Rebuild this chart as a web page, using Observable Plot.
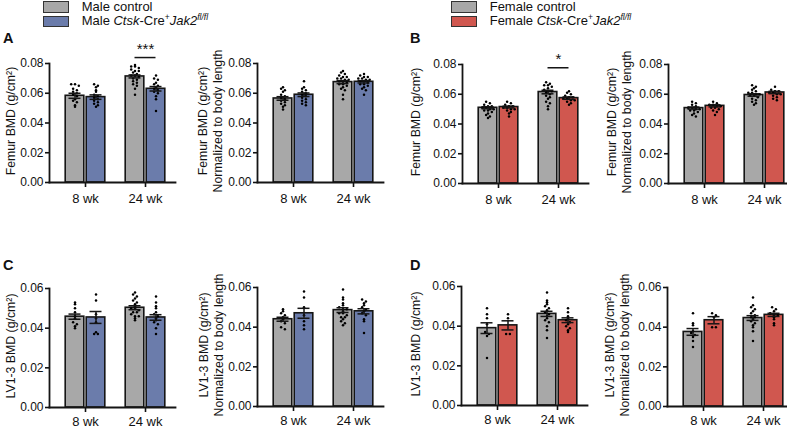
<!DOCTYPE html>
<html><head><meta charset="utf-8">
<script src="https://cdn.jsdelivr.net/npm/d3@7"></script>
<script src="https://cdn.jsdelivr.net/npm/@observablehq/plot@0.6"></script>
<style>
body{margin:0;background:#fff;}
#fig{position:relative;width:787px;height:428px;overflow:hidden;font-family:Arial,"Liberation Sans",Helvetica,sans-serif;color:#111;background:#fff;}
.sw{position:absolute;width:24px;height:9.5px;border:1px solid #333;}
.lt{position:absolute;font-size:13px;line-height:13px;white-space:nowrap;}
.lt sup{font-size:8.5px;line-height:0;vertical-align:5px;}
.letter{position:absolute;font-weight:bold;font-size:14.5px;line-height:14px;}
#fig svg{position:absolute;max-width:none;overflow:visible;background:transparent;}
</style></head>
<body><div id="fig"></div>
<script>
// ---------- data ----------
const weeks = ["8 wk", "24 wk"];
const groups = ["control", "Ctsk-Cre+Jak2fl/fl"];
const yTicksFemur = [0, 0.02, 0.04, 0.06, 0.08];
const yTicksLV = [0, 0.02, 0.04, 0.06];

// means / SEM: [group][week]
const aMean = [[0.0583, 0.0713], [0.0574, 0.0630]];
const aSem  = [[0.0017, 0.0010], [0.0015, 0.0015]];
const a2Mean = [[0.0565, 0.0675], [0.0590, 0.0677]];
const a2Sem  = [[0.0012, 0.0010], [0.0012, 0.0008]];
const bMean = [[0.0509, 0.0615], [0.0514, 0.0574]];
const bSem  = [[0.0007, 0.0012], [0.0006, 0.0008]];
const b2Mean = [[0.0507, 0.0595], [0.0522, 0.0612]];
const b2Sem  = [[0.0007, 0.0008], [0.0007, 0.0008]];
const cMean = [[0.0458, 0.0503], [0.0454, 0.0454]];
const cSem  = [[0.0013, 0.0010], [0.0030, 0.0014]];
const c2Mean = [[0.0440, 0.0486], [0.0470, 0.0480]];
const c2Sem  = [[0.0010, 0.0012], [0.0025, 0.0013]];
const dMean = [[0.0390, 0.0462], [0.0404, 0.0430]];
const dSem  = [[0.0027, 0.0013], [0.0023, 0.0012]];
const d2Mean = [[0.0376, 0.0446], [0.0435, 0.0462]];
const d2Sem  = [[0.0017, 0.0012], [0.0018, 0.0008]];

// individual animals: [group][week][...]
const aDots = [
  [[0.066,0.066,0.065,0.063,0.062,0.061,0.060,0.059,0.058,0.056,0.055,0.054,0.052,0.051],
   [0.079,0.078,0.078,0.077,0.076,0.075,0.075,0.074,0.073,0.072,0.072,0.071,0.070,0.069,0.068,0.067,0.066,0.065,0.063,0.059]],
  [[0.066,0.065,0.064,0.062,0.061,0.059,0.058,0.057,0.056,0.055,0.054,0.053,0.052,0.051],
   [0.072,0.070,0.069,0.067,0.066,0.065,0.064,0.063,0.062,0.061,0.060,0.058,0.056,0.048]]];
const a2Dots = [
  [[0.064,0.063,0.062,0.061,0.059,0.058,0.057,0.056,0.055,0.054,0.053,0.052,0.051,0.049],
   [0.075,0.074,0.073,0.072,0.071,0.071,0.070,0.070,0.069,0.069,0.068,0.068,0.067,0.066,0.066,0.065,0.064,0.063,0.062,0.059,0.056]],
  [[0.068,0.064,0.063,0.062,0.061,0.060,0.059,0.058,0.057,0.056,0.055,0.054,0.053,0.052],
   [0.073,0.072,0.071,0.071,0.070,0.070,0.069,0.069,0.068,0.068,0.067,0.066,0.066,0.065,0.064,0.063,0.062,0.059]]];
const bDots = [
  [[0.055,0.054,0.053,0.052,0.052,0.051,0.051,0.050,0.050,0.049,0.049,0.048,0.047,0.046,0.045,0.044],
   [0.068,0.067,0.066,0.066,0.065,0.064,0.063,0.062,0.062,0.061,0.060,0.059,0.058,0.057,0.055,0.054,0.052,0.050]],
  [[0.055,0.054,0.053,0.052,0.052,0.051,0.051,0.050,0.050,0.049,0.048,0.047,0.045],
   [0.062,0.061,0.060,0.059,0.058,0.058,0.057,0.057,0.056,0.056,0.055,0.054,0.053]]];
const b2Dots = [
  [[0.055,0.054,0.053,0.052,0.051,0.051,0.050,0.050,0.049,0.049,0.048,0.047,0.046,0.045],
   [0.066,0.065,0.064,0.063,0.062,0.061,0.061,0.060,0.060,0.059,0.059,0.058,0.057,0.056,0.055,0.054,0.053]],
  [[0.055,0.054,0.053,0.053,0.052,0.052,0.051,0.051,0.050,0.049,0.048,0.046],
   [0.065,0.063,0.062,0.062,0.061,0.061,0.060,0.060,0.059,0.058,0.057,0.056]]];
const cDots = [
  [[0.053,0.052,0.050,0.048,0.046,0.045,0.043,0.042,0.041,0.040],
   [0.058,0.057,0.056,0.055,0.054,0.053,0.052,0.051,0.050,0.050,0.049,0.048,0.048,0.047,0.046,0.046,0.045,0.044]],
  [[0.057,0.054,0.047,0.045,0.043,0.038,0.037,0.037],
   [0.056,0.053,0.051,0.050,0.048,0.047,0.046,0.045,0.044,0.043,0.042,0.040,0.037]]];
const c2Dots = [
  [[0.049,0.048,0.047,0.046,0.045,0.044,0.043,0.042,0.040,0.039],
   [0.059,0.055,0.054,0.052,0.051,0.050,0.049,0.049,0.048,0.047,0.047,0.046,0.045,0.045,0.044,0.043,0.042,0.041]],
  [[0.058,0.055,0.050,0.046,0.043,0.041,0.039],
   [0.054,0.053,0.052,0.051,0.050,0.049,0.048,0.047,0.046,0.044,0.043,0.037]]];
const dDots = [
  [[0.049,0.046,0.044,0.041,0.037,0.036,0.035,0.024],
   [0.057,0.053,0.052,0.051,0.050,0.049,0.048,0.047,0.046,0.045,0.044,0.043,0.042,0.040,0.038,0.034]],
  [[0.046,0.044,0.036,0.036],
   [0.049,0.047,0.045,0.044,0.043,0.042,0.041,0.040,0.039,0.038,0.037]]];
const d2Dots = [
  [[0.047,0.042,0.041,0.038,0.037,0.036,0.035,0.033,0.030],
   [0.055,0.051,0.050,0.049,0.048,0.047,0.046,0.045,0.045,0.044,0.043,0.042,0.041,0.040,0.038,0.033]],
  [[0.047,0.046,0.045,0.040,0.040],
   [0.050,0.049,0.048,0.047,0.046,0.046,0.045,0.044,0.042,0.041]]];

// significance brackets (week index, bracket level, label)
const aSig = [{week: 1, level: 0.084, label: "***"}];
const bSig = [{week: 1, level: 0.0778, label: "*"}];

const labelFemur = "Femur BMD (g/cm²)";
const labelFemurNorm = "Femur BMD (g/cm²)\nNormalized to body length";
const labelLV = "LV1-3 BMD (g/cm²)";
const labelLVNorm = "LV1-3 BMD (g/cm²)\nNormalized to body length";

// ---------- styles ----------
const ctrlColor = "#a8a8a8";
const maleColor = "#6b7cab";
const femaleColor = "#d0574f";
const ink = "#151515";
const FONT = 'Arial, "Liberation Sans", Helvetica, sans-serif';
const FRAME_W = 126, FRAME_H = 119, ML = 62, MR = 8, MT = 30, MB = 30;
const XDOM = [-0.6, 1.5];

const fig = document.getElementById("fig");

function panel({mean, sem, dots, yMax, ticks, label, labelDx, mutColor, sig, axisX, frameTop, xPad = 6}) {
  const bars = [];
  for (let g = 0; g < 2; g++) for (let w = 0; w < 2; w++) {
    const x1 = w + (g ? 0.02 : -0.33), x2 = w + (g ? 0.33 : -0.02);
    bars.push({g, w, mean: mean[g][w], sem: sem[g][w], x1, x2, xc: (x1 + x2) / 2});
  }
  const pxPerUnit = FRAME_H / yMax;
  const pts = [];
  for (let g = 0; g < 2; g++) for (let w = 0; w < 2; w++) {
    const b = bars.find(d => d.g === g && d.w === w);
    const sorted = dots[g][w].slice().sort((a, b) => b - a);
    const rows = d3.groups(sorted, v => Math.round(v * pxPerUnit / 2.8));
    for (const [, row] of rows) row.forEach((v, j) => pts.push({x: b.xc + (j - (row.length - 1) / 2) * 3.8 / 60, y: v}));
  }
  const marks = [
    Plot.rect(bars.filter(d => d.g === 0), {x1: "x1", x2: "x2", y1: 0, y2: "mean", fill: ctrlColor, stroke: ink, strokeWidth: 1.6}),
    Plot.rect(bars.filter(d => d.g === 1), {x1: "x1", x2: "x2", y1: 0, y2: "mean", fill: mutColor, stroke: ink, strokeWidth: 1.6}),
    Plot.dot(pts, {x: "x", y: "y", r: 1.25, fill: "#000", stroke: null}),
    Plot.ruleX(bars, {x: "xc", y1: d => d.mean - d.sem, y2: d => d.mean + d.sem, stroke: ink, strokeWidth: 1.5}),
    Plot.ruleY(bars, {y: d => d.mean + d.sem, x1: d => d.xc - 0.1, x2: d => d.xc + 0.1, stroke: ink, strokeWidth: 1.5}),
    Plot.ruleY(bars, {y: d => d.mean - d.sem, x1: d => d.xc - 0.1, x2: d => d.xc + 0.1, stroke: ink, strokeWidth: 1.5}),
    Plot.axisY({ticks, tickFormat: d3.format(".2f"), tickSize: 4, tickPadding: 2, fontSize: 12, label: null, strokeWidth: 1.6}),
    Plot.axisX({ticks: [0, 1], tickFormat: i => weeks[i], tickSize: 5, tickPadding: xPad, fontSize: 13, label: null, strokeWidth: 1.6}),
    Plot.frame({anchor: "left", stroke: ink, strokeWidth: 1.8}),
    Plot.frame({anchor: "bottom", stroke: ink, strokeWidth: 1.8}),
    Plot.text([label], {frameAnchor: "left", textAnchor: "middle", lineAnchor: "middle", rotate: -90, dx: labelDx, dy: -2, fontSize: 12.3, lineHeight: 1.22, fill: "#111"})
  ];
  if (sig) {
    const lvl = sig.map(s => ({...s, x1: s.week - 0.175, x2: s.week + 0.175}));
    marks.push(Plot.ruleY(lvl, {y: "level", x1: "x1", x2: "x2", stroke: ink, strokeWidth: 1.5}));
    marks.push(Plot.text(lvl, {x: "week", y: "level", text: "label", lineAnchor: "bottom", dy: -3.5, fontSize: 15, fill: "#111"}));
  }
  const svg = Plot.plot({
    width: ML + FRAME_W + MR, height: MT + FRAME_H + MB,
    marginLeft: ML, marginRight: MR, marginTop: MT, marginBottom: MB,
    x: {domain: XDOM}, y: {domain: [0, yMax]},
    style: {fontFamily: FONT, fontSize: "12px", color: "#111", background: "transparent", overflow: "visible"},
    marks
  });
  svg.style.left = (axisX - ML) + "px";
  svg.style.top = (frameTop - MT) + "px";
  fig.appendChild(svg);
}

panel({mean: aMean, sem: aSem, dots: aDots, yMax: 0.08, ticks: yTicksFemur, label: labelFemur, labelDx: -39, mutColor: maleColor, sig: aSig, axisX: 49.3, frameTop: 63.3});
panel({mean: a2Mean, sem: a2Sem, dots: a2Dots, yMax: 0.08, ticks: yTicksFemur, label: labelFemurNorm, labelDx: -48, mutColor: maleColor, axisX: 256.7, frameTop: 63.3});
panel({mean: bMean, sem: bSem, dots: bDots, yMax: 0.08, ticks: yTicksFemur, label: labelFemur, labelDx: -47.5, mutColor: femaleColor, sig: bSig, axisX: 461.7, frameTop: 64});
panel({mean: b2Mean, sem: b2Sem, dots: b2Dots, yMax: 0.08, ticks: yTicksFemur, label: labelFemurNorm, labelDx: -50, mutColor: femaleColor, axisX: 667.7, frameTop: 64});
panel({mean: cMean, sem: cSem, dots: cDots, yMax: 0.06, ticks: yTicksLV, label: labelLV, labelDx: -39, mutColor: maleColor, axisX: 49.3, frameTop: 287.5, xPad: 4});
panel({mean: c2Mean, sem: c2Sem, dots: c2Dots, yMax: 0.06, ticks: yTicksLV, label: labelLVNorm, labelDx: -46.5, mutColor: maleColor, axisX: 256.7, frameTop: 287.3, xPad: 4});
panel({mean: dMean, sem: dSem, dots: dDots, yMax: 0.06, ticks: yTicksLV, label: labelLV, labelDx: -46, mutColor: femaleColor, axisX: 461, frameTop: 286.2, xPad: 4.5});
panel({mean: d2Mean, sem: d2Sem, dots: d2Dots, yMax: 0.06, ticks: yTicksLV, label: labelLVNorm, labelDx: -50.5, mutColor: femaleColor, axisX: 666.7, frameTop: 286.5, xPad: 4.5});

// ---------- legends and panel letters ----------
function legend(x, sex, color) {
  const items = [
    {c: ctrlColor, html: sex + " control"},
    {c: color, html: sex + " <i>Ctsk</i>-Cre<sup>+</sup><i>Jak2</i><sup><i>fl/fl</i></sup>"}
  ];
  items.forEach((it, i) => {
    const sw = document.createElement("div");
    sw.className = "sw"; sw.style.left = x + "px"; sw.style.top = (1 + i * 14.7) + "px"; sw.style.background = it.c;
    fig.appendChild(sw);
    const t = document.createElement("div");
    t.className = "lt"; t.style.left = (x + 39) + "px"; t.style.top = (-0.5 + i * 14.8) + "px"; t.innerHTML = it.html;
    fig.appendChild(t);
  });
}
legend(42.7, "Male", maleColor);
legend(450.7, "Female", femaleColor);

[["A", 3, 30.5], ["B", 410, 30.5], ["C", 3, 257.8], ["D", 410, 257.8]].forEach(([s, x, y]) => {
  const d = document.createElement("div");
  d.className = "letter"; d.style.left = x + "px"; d.style.top = y + "px"; d.textContent = s;
  fig.appendChild(d);
});
</script>
</body></html>
